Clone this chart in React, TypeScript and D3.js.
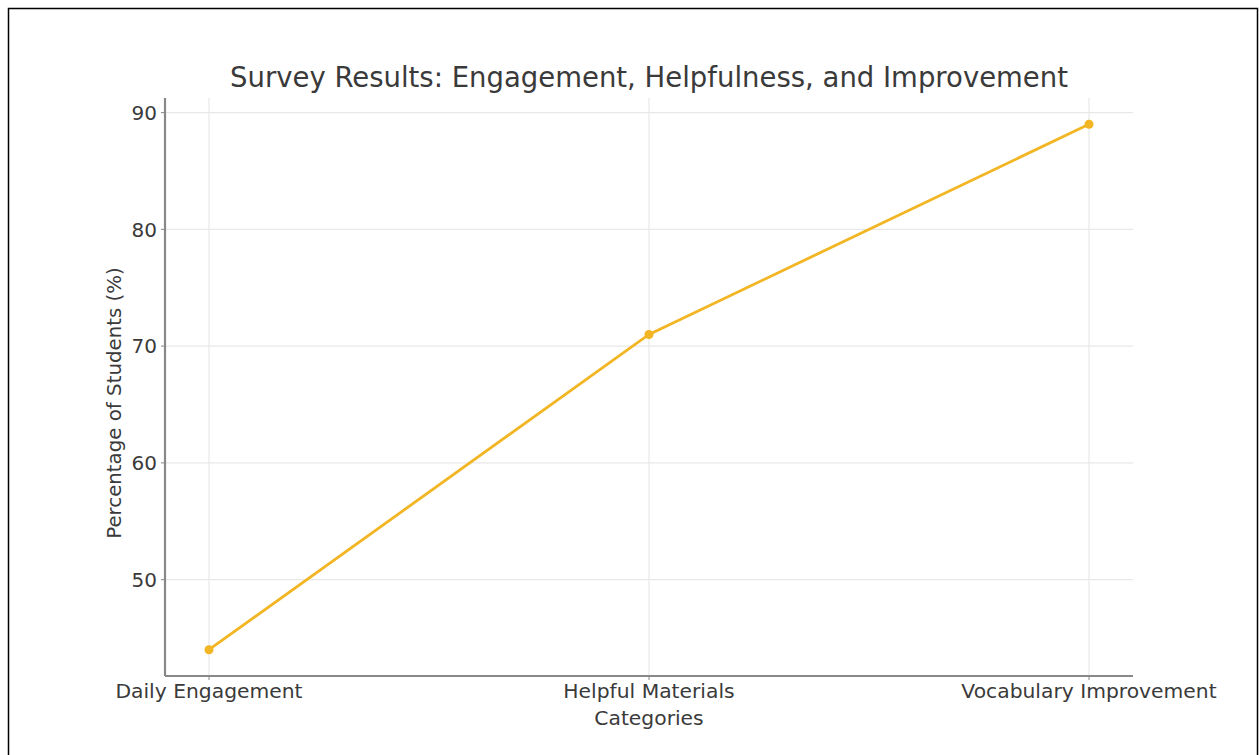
import React from "react";
import * as d3 from "d3";

const categories = ["Daily Engagement", "Helpful Materials", "Vocabulary Improvement"];
const values = [44, 71, 89];
const yTicks = [50, 60, 70, 80, 90];

const W = 1259;
const H = 755;
const M = { left: 165, right: 1133, top: 98, bottom: 676 };
const FONT = "DejaVu Sans, sans-serif";
const LINE = "#f2b523";
const TXT = "#3a3a3a";

export default function App() {
  const x = d3.scaleLinear().domain([-0.1, 2.1]).range([M.left, M.right]);
  const y = d3.scaleLinear().domain([41.75, 91.25]).range([M.bottom, M.top]);
  const line = d3
    .line<number>()
    .x((_, i) => x(i))
    .y((d) => y(d));

  return (
    <svg
      width={W}
      height={H}
      style={{ position: "absolute", left: 0, top: 0, background: "#fff" }}
    >
      <rect x={8.5} y={8.5} width={1249} height={760} fill="#fff" stroke="#000" strokeWidth={1.5} />
      {/* grid */}
      {yTicks.map((t) => (
        <line key={"gy" + t} x1={M.left} x2={M.right} y1={y(t)} y2={y(t)} stroke="#e8e8e8" strokeWidth={1.2} />
      ))}
      {categories.map((c, i) => (
        <line key={"gx" + c} x1={x(i)} x2={x(i)} y1={M.top} y2={M.bottom} stroke="#e8e8e8" strokeWidth={1.2} />
      ))}
      {/* spines */}
      <line x1={M.left} x2={M.left} y1={M.top} y2={M.bottom} stroke="#888" strokeWidth={2.2} />
      <line x1={M.left} x2={M.right} y1={M.bottom} y2={M.bottom} stroke="#888" strokeWidth={2.2} />
      {/* y ticks */}
      {yTicks.map((t) => (
        <g key={"ty" + t}>
          <line x1={M.left - 4} x2={M.left} y1={y(t)} y2={y(t)} stroke="#888" strokeWidth={1} />
          <text x={M.left - 8} y={y(t)} dy="0.36em" textAnchor="end" fontFamily={FONT} fontSize={20} fill={TXT}>
            {t}
          </text>
        </g>
      ))}
      {/* x ticks */}
      {categories.map((c, i) => (
        <g key={"tx" + c}>
          <line x1={x(i)} x2={x(i)} y1={M.bottom} y2={M.bottom + 4} stroke="#888" strokeWidth={1} />
          <text x={x(i)} y={M.bottom + 22} textAnchor="middle" fontFamily={FONT} fontSize={20.3} fill={TXT}>
            {c}
          </text>
        </g>
      ))}
      {/* data */}
      <path d={line(values) || ""} fill="none" stroke={LINE} strokeWidth={2.8} />
      {values.map((v, i) => (
        <circle key={"p" + i} cx={x(i)} cy={y(v)} r={4.5} fill={LINE} />
      ))}
      {/* labels */}
      <text x={(M.left + M.right) / 2} y={87} textAnchor="middle" fontFamily={FONT} fontSize={27.5} fill={TXT}>
        Survey Results: Engagement, Helpfulness, and Improvement
      </text>
      <text x={(M.left + M.right) / 2} y={725} textAnchor="middle" fontFamily={FONT} fontSize={20.3} fill={TXT}>
        Categories
      </text>
      <text
        transform={`translate(121, 403) rotate(-90)`}
        textAnchor="middle"
        fontFamily={FONT}
        fontSize={19.8}
        fill={TXT}
      >
        Percentage of Students (%)
      </text>
    </svg>
  );
}
